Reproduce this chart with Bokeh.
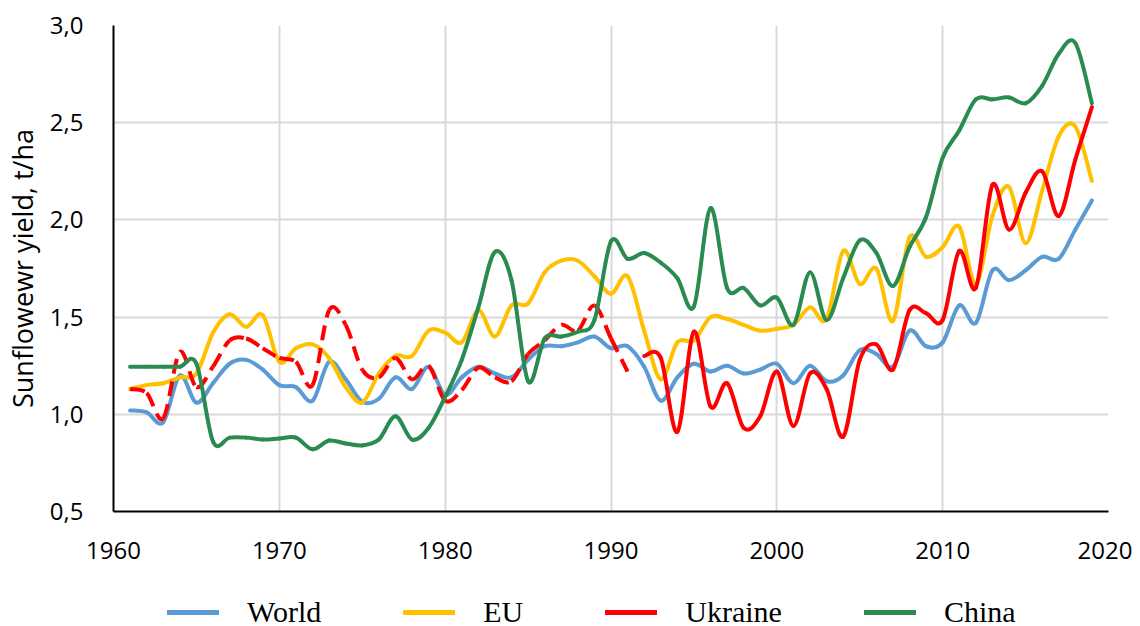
import numpy as np
from bokeh.plotting import figure
from bokeh.layouts import column
from bokeh.models import (Legend, LegendItem, FixedTicker, CustomJSTickFormatter,
                          ColumnDataSource, Range1d)
from bokeh.embed import file_html
from bokeh.resources import INLINE

# ---------------- data ----------------
years = list(range(1961, 2020))

world = [1.02, 1.01, 0.96, 1.20, 1.06, 1.16, 1.26, 1.28, 1.23, 1.15,
         1.14, 1.07, 1.27, 1.18, 1.065, 1.08, 1.19, 1.13, 1.245, 1.10,
         1.19, 1.245, 1.21, 1.19, 1.28, 1.35, 1.35, 1.37, 1.40, 1.34,
         1.35, 1.245, 1.07, 1.19, 1.26, 1.22, 1.25, 1.21, 1.23, 1.26,
         1.16, 1.25, 1.17, 1.20, 1.33, 1.31, 1.245, 1.43, 1.35, 1.37,
         1.56, 1.47, 1.74, 1.69, 1.74, 1.81, 1.80, 1.95, 2.10]

eu = [1.13, 1.15, 1.16, 1.19, 1.21, 1.42, 1.515, 1.45, 1.51, 1.27,
      1.34, 1.36, 1.29, 1.14, 1.06, 1.21, 1.30, 1.30, 1.43, 1.42,
      1.37, 1.535, 1.40, 1.56, 1.57, 1.73, 1.79, 1.79, 1.71, 1.62,
      1.71, 1.43, 1.18, 1.37, 1.38, 1.50, 1.49, 1.46, 1.43, 1.44,
      1.46, 1.55, 1.49, 1.84, 1.67, 1.75, 1.48, 1.91, 1.81, 1.86,
      1.965, 1.67, 2.02, 2.17, 1.88, 2.15, 2.43, 2.48, 2.20]

ukraine = [1.13, 1.11, 0.98, 1.32, 1.14, 1.245, 1.38, 1.39, 1.34, 1.29,
           1.27, 1.15, 1.535, 1.46, 1.23, 1.19, 1.29, 1.18, 1.25, 1.07,
           1.125, 1.24, 1.19, 1.17, 1.31, 1.38, 1.46, 1.43, 1.56, 1.39,
           1.22, 1.30, 1.29, 0.91, 1.425, 1.04, 1.16, 0.93, 0.99, 1.22,
           0.94, 1.21, 1.13, 0.885, 1.28, 1.36, 1.23, 1.535, 1.52, 1.485,
           1.84, 1.65, 2.18, 1.95, 2.14, 2.25, 2.02, 2.31, 2.58]
ukraine_dashed_until = 1991   # USSR period drawn dashed

china = [1.245, 1.245, 1.245, 1.245, 1.26, 0.86, 0.88, 0.88, 0.87, 0.875,
         0.88, 0.82, 0.865, 0.85, 0.84, 0.87, 0.99, 0.87, 0.93, 1.09,
         1.28, 1.55, 1.835, 1.69, 1.17, 1.39, 1.40, 1.425, 1.485, 1.89,
         1.80, 1.83, 1.78, 1.70, 1.555, 2.06, 1.65, 1.65, 1.56, 1.60,
         1.46, 1.73, 1.485, 1.70, 1.895, 1.83, 1.66, 1.86, 2.015, 2.32,
         2.46, 2.62, 2.62, 2.63, 2.60, 2.69, 2.855, 2.91, 2.60]

x_ticks = [1960, 1970, 1980, 1990, 2000, 2010, 2020]
y_ticks = [0.5, 1.0, 1.5, 2.0, 2.5, 3.0]

labels = ["World", "EU", "Ukraine", "China"]
colors = ["#5B9BD5", "#FFC000", "#FF0000", "#2A8B50"]
all_series = [world, eu, ukraine, china]


def smooth_source(xs, ys):
    """Bezier segments (Catmull-Rom style, like a smoothed spreadsheet line)."""
    x = np.asarray(xs, dtype=float)
    y = np.asarray(ys, dtype=float)
    n = len(x)
    d = dict(x0=[], y0=[], x1=[], y1=[], cx0=[], cy0=[], cx1=[], cy1=[])
    for i in range(n - 1):
        a = max(i - 1, 0)
        b = min(i + 2, n - 1)
        d["x0"].append(x[i]); d["y0"].append(y[i])
        d["x1"].append(x[i + 1]); d["y1"].append(y[i + 1])
        d["cx0"].append(x[i] + (x[i + 1] - x[a]) / 6.0)
        d["cy0"].append(y[i] + (y[i + 1] - y[a]) / 6.0)
        d["cx1"].append(x[i + 1] - (x[b] - x[i]) / 6.0)
        d["cy1"].append(y[i + 1] - (y[b] - y[i]) / 6.0)
    return ColumnDataSource(d)


p = figure(frame_width=995, frame_height=486,
           min_border_left=105, min_border_right=24,
           min_border_top=25, min_border_bottom=79,
           x_range=Range1d(1960, 2020), y_range=Range1d(0.5, 3.0),
           output_backend="svg", toolbar_location=None)

p.outline_line_color = None
p.background_fill_color = "white"
p.border_fill_color = "white"

for g, t in ((p.xgrid, x_ticks), (p.ygrid, y_ticks)):
    g.ticker = FixedTicker(ticks=t)
    g.grid_line_color = "#D9D9D9"
    g.grid_line_width = 2

for ax, t in ((p.xaxis, x_ticks), (p.yaxis, y_ticks)):
    ax.ticker = FixedTicker(ticks=t)
    ax.major_tick_line_color = None
    ax.minor_tick_line_color = None
    ax.axis_line_color = "black"
    ax.axis_line_width = 2
    ax.major_label_text_font = "Open Sans"
    ax.major_label_text_font_size = "24px"
    ax.major_label_text_color = "black"

p.xaxis.major_label_standoff = 24
p.yaxis.major_label_standoff = 24
p.yaxis.formatter = CustomJSTickFormatter(code="return tick.toFixed(1).replace('.', ',');")
p.yaxis.axis_label = "Sunflowewr yield, t/ha"
p.yaxis.axis_label_text_font = "Open Sans"
p.yaxis.axis_label_text_font_size = "27px"
p.yaxis.axis_label_text_font_style = "normal"
p.yaxis.axis_label_text_color = "black"
p.yaxis.axis_label_standoff = 6

lw = 4
for name in ["World", "EU"]:
    k = labels.index(name)
    p.bezier("x0", "y0", "x1", "y1", "cx0", "cy0", "cx1", "cy1",
             source=smooth_source(years, all_series[k]),
             line_color=colors[k], line_width=lw, line_cap="round")

# Ukraine: dashed for the early period, solid afterwards
yrs = np.array(years)
m1 = yrs <= ukraine_dashed_until
m2 = yrs > ukraine_dashed_until
uk = np.array(ukraine)
p.bezier("x0", "y0", "x1", "y1", "cx0", "cy0", "cx1", "cy1",
         source=smooth_source(yrs[m1], uk[m1]),
         line_color=colors[2], line_width=lw, line_dash="15 8")
p.bezier("x0", "y0", "x1", "y1", "cx0", "cy0", "cx1", "cy1",
         source=smooth_source(yrs[m2], uk[m2]),
         line_color=colors[2], line_width=lw, line_cap="round")

p.bezier("x0", "y0", "x1", "y1", "cx0", "cy0", "cx1", "cy1",
         source=smooth_source(years, china),
         line_color=colors[3], line_width=lw, line_cap="round")

# ---------------- legend strip (separate figure below) ----------------
# its ranges exclude the data, so the proxy lines only show in the legend
leg_fig = figure(width=1132, height=44, min_border=0,
                 x_range=Range1d(0, 1), y_range=Range1d(0, 1),
                 x_axis_location=None, y_axis_location=None,
                 output_backend="svg", toolbar_location=None)
leg_fig.outline_line_color = None
leg_fig.grid.visible = False
leg_fig.border_fill_color = "white"

items = []
for lab, c, s in zip(labels, colors, all_series):
    r = leg_fig.line(x=years, y=s, line_color=c, line_width=5, line_cap="round")
    items.append(LegendItem(label=lab, renderers=[r]))

legend = Legend(items=items, orientation="horizontal", location=(54, 5),
                label_text_font="Liberation Serif", label_text_font_size="30px",
                label_text_color="black",
                glyph_width=52, glyph_height=24, label_standoff=28, spacing=82,
                border_line_color=None, background_fill_alpha=0,
                padding=0, margin=0)
leg_fig.add_layout(legend, "center")

layout = column(p, leg_fig, spacing=0)
open("out.html", "w").write(file_html(layout, INLINE))
